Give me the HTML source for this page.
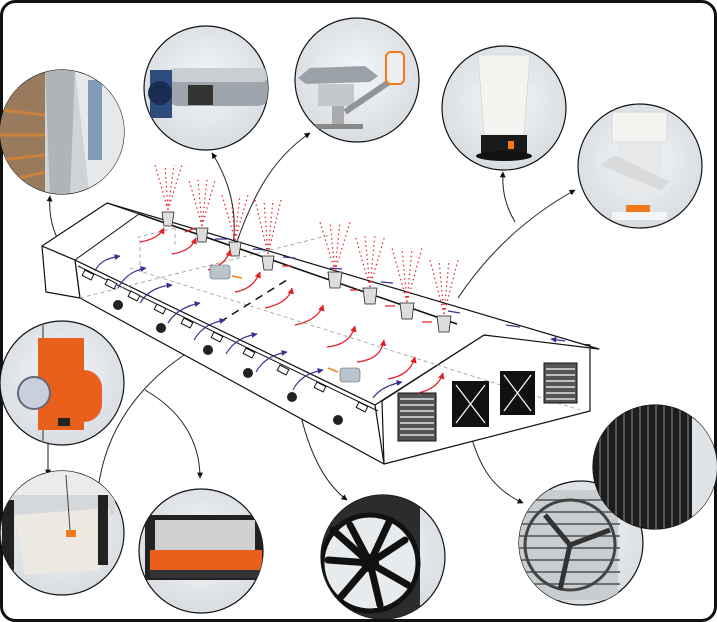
<!DOCTYPE html>
<html><head><meta charset="utf-8"><style>
html,body{margin:0;padding:0;background:#fff;}
svg{display:block;}
</style></head><body>
<svg width="717" height="622" viewBox="0 0 717 622" xmlns="http://www.w3.org/2000/svg">
<defs>
<marker id="ar" viewBox="0 0 10 10" refX="9" refY="5" markerWidth="6" markerHeight="6" orient="auto"><path d="M0,0L10,5L0,10z" fill="#111"/></marker>
<marker id="rd" viewBox="0 0 10 10" refX="9" refY="5" markerWidth="5" markerHeight="5" orient="auto"><path d="M0,0L10,5L0,10z" fill="#e3202a"/></marker>
<marker id="bl" viewBox="0 0 10 10" refX="9" refY="5" markerWidth="5" markerHeight="5" orient="auto"><path d="M0,0L10,5L0,10z" fill="#3a2f8f"/></marker>
<radialGradient id="g" cx="50%" cy="45%" r="60%"><stop offset="0" stop-color="#f4f6f8"/><stop offset="1" stop-color="#d6dbe0"/></radialGradient>
<clipPath id="c1"><circle cx="62" cy="132" r="62"/></clipPath>
<clipPath id="c2"><circle cx="206" cy="88" r="62"/></clipPath>
<clipPath id="c3"><circle cx="357" cy="80" r="62"/></clipPath>
<clipPath id="c4"><circle cx="504" cy="108" r="62"/></clipPath>
<clipPath id="c5"><circle cx="640" cy="166" r="62"/></clipPath>
<clipPath id="c6"><circle cx="62" cy="383" r="62"/></clipPath>
<clipPath id="c7"><circle cx="62" cy="533" r="62"/></clipPath>
<clipPath id="c8"><circle cx="201" cy="551" r="62"/></clipPath>
<clipPath id="c9"><circle cx="383" cy="557" r="62"/></clipPath>
<clipPath id="c10"><circle cx="581" cy="543" r="62"/></clipPath>
<clipPath id="c11"><circle cx="655" cy="467" r="62"/></clipPath>
</defs>
<rect x="1.5" y="1.5" width="714" height="619" rx="14" fill="#fff" stroke="#111" stroke-width="3"/>

<!-- connectors -->
<g fill="none" stroke="#222" stroke-width="1">
<path d="M72,262 C55,240 48,220 50,196" marker-end="url(#ar)"/>
<path d="M230,262 C240,220 232,185 212,153" marker-end="url(#ar)"/>
<path d="M230,262 C250,200 270,160 310,133" marker-end="url(#ar)"/>
<path d="M515,222 C505,205 502,190 503,172" marker-end="url(#ar)"/>
<path d="M458,298 C490,250 530,215 575,190" marker-end="url(#ar)"/>
<path d="M48,440 L48,475" marker-end="url(#ar)"/>
<path d="M200,345 C140,380 105,430 98,490" marker-end="url(#ar)"/>
<path d="M145,390 C180,410 200,440 200,478" marker-end="url(#ar)"/>
<path d="M297,398 C305,440 320,480 347,500" marker-end="url(#ar)"/>
<path d="M470,432 C480,470 495,490 523,503" marker-end="url(#ar)"/>
</g>

<!-- building -->
<g fill="#fff" stroke="#111" stroke-width="1.2" stroke-linejoin="round">
<polygon points="42,246 46,292 80,298 75,260"/>
<polygon points="75,260 375,405 384,464 80,298"/>
<polygon points="382,401 484,335 590,345 590,411 384,464"/>
<polygon points="42,246 107,203 599,349 484,335 375,405 75,260"/>
</g>
<g fill="none" stroke="#111" stroke-width="1">
<line x1="139" y1="214" x2="457" y2="324" stroke-width="1.6"/>
<line x1="75" y1="260" x2="139" y2="214"/>
<line x1="107" y1="203" x2="139" y2="214"/>
<line x1="78" y1="266" x2="378" y2="411"/>
</g>
<g fill="none" stroke="#999" stroke-width="0.8" stroke-dasharray="4,3">
<line x1="80" y1="298" x2="330" y2="235"/>
<line x1="130" y1="268" x2="580" y2="410"/>
<line x1="140" y1="272" x2="140" y2="240"/>
<line x1="175" y1="245" x2="175" y2="228"/>
<line x1="175" y1="228" x2="135" y2="238"/>
</g>
<g fill="none" stroke="#111" stroke-width="1.5" stroke-dasharray="8,6">
<line x1="220" y1="322" x2="290" y2="278"/>
</g>
<!-- windows -->
<g fill="#fff" stroke="#111" stroke-width="1">
<rect x="83" y="272" width="10" height="6" transform="rotate(27 88 275)"/>
<rect x="106" y="281" width="10" height="6" transform="rotate(27 111 284)"/>
<rect x="129" y="293" width="10" height="6" transform="rotate(27 134 296)"/>
<rect x="155" y="306" width="10" height="6" transform="rotate(27 160 309)"/>
<rect x="182" y="320" width="10" height="6" transform="rotate(27 187 323)"/>
<rect x="212" y="334" width="10" height="6" transform="rotate(27 217 337)"/>
<rect x="244" y="350" width="10" height="6" transform="rotate(27 249 353)"/>
<rect x="278" y="367" width="10" height="6" transform="rotate(27 283 370)"/>
<rect x="315" y="384" width="10" height="6" transform="rotate(27 320 387)"/>
<rect x="357" y="404" width="10" height="6" transform="rotate(27 362 407)"/>
</g>
<g fill="#222">
<circle cx="118" cy="305" r="5"/><circle cx="161" cy="328" r="5"/><circle cx="208" cy="350" r="5"/>
<circle cx="248" cy="373" r="5"/><circle cx="292" cy="397" r="5"/><circle cx="338" cy="420" r="5"/>
</g>
<!-- end wall fans -->
<g>
<rect x="398" y="393" width="38" height="48" fill="#555" stroke="#111"/>
<g stroke="#fff" stroke-width="1.3"><line x1="400" y1="399" x2="434" y2="399"/><line x1="400" y1="405" x2="434" y2="405"/><line x1="400" y1="411" x2="434" y2="411"/><line x1="400" y1="417" x2="434" y2="417"/><line x1="400" y1="423" x2="434" y2="423"/><line x1="400" y1="429" x2="434" y2="429"/><line x1="400" y1="435" x2="434" y2="435"/></g>
<rect x="452" y="381" width="37" height="46" fill="#111"/>
<path d="M456,385L485,423M485,385L456,423" stroke="#fff" stroke-width="1.2"/>
<rect x="500" y="371" width="35" height="44" fill="#111"/>
<path d="M504,375L531,411M531,375L504,411" stroke="#fff" stroke-width="1.2"/>
<rect x="544" y="363" width="33" height="40" fill="#555" stroke="#111"/>
<g stroke="#fff" stroke-width="1.3"><line x1="546" y1="369" x2="575" y2="369"/><line x1="546" y1="375" x2="575" y2="375"/><line x1="546" y1="381" x2="575" y2="381"/><line x1="546" y1="387" x2="575" y2="387"/><line x1="546" y1="393" x2="575" y2="393"/><line x1="546" y1="399" x2="575" y2="399"/></g>
</g>
<!-- chimneys with spray -->
<g>
<g fill="none" stroke="#e3202a" stroke-width="1.2" stroke-dasharray="1.5,3">
<path d="M168,210L155,165M168,210L182,165M168,210L165,165M168,210L174,165"/>
<path d="M202,226L189,180M202,226L215,180M202,226L198,180M202,226L207,180"/>
<path d="M235,240L222,195M235,240L248,195M235,240L231,195M235,240L240,195"/>
<path d="M268,254L255,200M268,254L281,200M268,254L264,200M268,254L273,200"/>
<path d="M335,271L320,222M335,271L350,222M335,271L330,222M335,271L340,222"/>
<path d="M370,287L355,235M370,287L385,235M370,287L365,235M370,287L375,235"/>
<path d="M407,302L392,248M407,302L422,248M407,302L402,248M407,302L412,248"/>
<path d="M444,314L430,260M444,314L458,260M444,314L439,260M444,314L449,260"/>
</g>
<g fill="#ddd" stroke="#222" stroke-width="0.8">
<path d="M162,212h12l-2,14h-8z"/><path d="M196,228h12l-2,14h-8z"/><path d="M229,242h12l-2,14h-8z"/><path d="M262,256h12l-2,14h-8z"/>
<path d="M328,272h14l-2,16h-10z"/><path d="M363,288h14l-2,16h-10z"/><path d="M400,303h14l-2,16h-10z"/><path d="M437,316h14l-2,16h-10z"/>
</g>
</g>
<!-- red airflow arrows -->
<g fill="none" stroke="#e3202a" stroke-width="1.3">
<path d="M140,242 C152,240 160,236 164,228" marker-end="url(#rd)"/>
<path d="M172,254 C184,252 192,248 196,238" marker-end="url(#rd)"/>
<path d="M208,270 C220,266 228,260 230,250" marker-end="url(#rd)"/>
<path d="M235,292 C248,290 256,282 260,272" marker-end="url(#rd)"/>
<path d="M265,308 C280,305 290,298 292,288" marker-end="url(#rd)"/>
<path d="M295,325 C310,322 320,315 323,305" marker-end="url(#rd)"/>
<path d="M327,347 C345,345 352,337 355,326" marker-end="url(#rd)"/>
<path d="M357,362 C375,360 382,352 384,340" marker-end="url(#rd)"/>
<path d="M388,379 C405,376 412,368 415,357" marker-end="url(#rd)"/>
<path d="M418,393 C432,390 440,383 443,373" marker-end="url(#rd)"/>
<path d="M185,232 l10,-4M282,266 l10,0M350,290 l8,0M385,306 l10,0M422,322 l10,0"/>
</g>
<!-- blue airflow arrows -->
<g fill="none" stroke="#3a2f8f" stroke-width="1.2">
<path d="M95,271 C100,260 110,258 120,256" marker-end="url(#bl)"/>
<path d="M118,288 C125,275 135,270 146,268" marker-end="url(#bl)"/>
<path d="M140,303 C148,290 160,286 172,285" marker-end="url(#bl)"/>
<path d="M168,323 C176,310 190,305 200,303" marker-end="url(#bl)"/>
<path d="M194,340 C202,326 214,322 225,320" marker-end="url(#bl)"/>
<path d="M226,354 C234,340 246,336 257,334" marker-end="url(#bl)"/>
<path d="M256,372 C264,358 276,354 287,352" marker-end="url(#bl)"/>
<path d="M293,390 C300,376 312,372 323,370" marker-end="url(#bl)"/>
<path d="M373,398 C380,388 392,384 402,382" marker-end="url(#bl)"/>
<path d="M227,239 l-12,0M265,250 l-12,-1M295,258 l-12,-1M342,269 l-12,-1M393,283 l-12,-1M460,313 l-12,-2M520,327 l-14,-2M565,341 l-14,-2" marker-end="url(#bl)"/>
</g>
<!-- heaters in house -->
<g><rect x="210" y="265" width="20" height="14" rx="3" fill="#b9c4cc" stroke="#666" stroke-width="0.6"/><line x1="232" y1="276" x2="242" y2="278" stroke="#f08020" stroke-width="1.5"/>
<rect x="340" y="368" width="20" height="14" rx="3" fill="#b9c4cc" stroke="#666" stroke-width="0.6"/><line x1="338" y1="372" x2="328" y2="368" stroke="#f08020" stroke-width="1.5"/></g>

<!-- circles -->
<g stroke="#111" stroke-width="1.2">
<circle cx="62" cy="132" r="62" fill="url(#g)"/>
<circle cx="206" cy="88" r="62" fill="url(#g)"/>
<circle cx="357" cy="80" r="62" fill="url(#g)"/>
<circle cx="504" cy="108" r="62" fill="url(#g)"/>
<circle cx="640" cy="166" r="62" fill="url(#g)"/>
<circle cx="62" cy="383" r="62" fill="url(#g)"/>
<circle cx="62" cy="533" r="62" fill="url(#g)"/>
<circle cx="201" cy="551" r="62" fill="url(#g)"/>
<circle cx="383" cy="557" r="62" fill="url(#g)"/>
<circle cx="581" cy="543" r="62" fill="url(#g)"/>
</g>
<!-- c1 corridor -->
<g clip-path="url(#c1)">
<rect x="0" y="70" width="130" height="130" fill="#cfd3d6"/>
<rect x="0" y="70" width="45" height="130" fill="#9a7a5c"/>
<g stroke="#c9823c" stroke-width="3"><line x1="0" y1="110" x2="45" y2="115"/><line x1="0" y1="135" x2="45" y2="135"/><line x1="0" y1="160" x2="45" y2="155"/><line x1="0" y1="182" x2="45" y2="172"/></g>
<polygon points="45,70 75,70 70,195 50,195" fill="#aeb4b8"/>
<polygon points="75,70 130,70 130,200 90,200" fill="#e6e8ea"/>
<rect x="88" y="80" width="14" height="80" fill="#7f9bb5"/>
</g>
<!-- c2 heater -->
<g clip-path="url(#c2)">
<rect x="168" y="68" width="100" height="38" rx="10" fill="#9ea5ac"/>
<rect x="168" y="68" width="100" height="14" rx="6" fill="#c9ced3"/>
<rect x="150" y="70" width="22" height="48" fill="#2e4d7e"/>
<circle cx="160" cy="93" r="12" fill="#1a2d50"/>
<rect x="188" y="85" width="25" height="20" fill="#333"/>
</g>
<!-- c3 mixing fan -->
<g clip-path="url(#c3)">
<polygon points="298,78 310,68 365,66 378,76 370,82 306,84" fill="#9aa1a8"/>
<rect x="318" y="84" width="36" height="22" fill="#c4c8cc"/>
<rect x="332" y="106" width="12" height="20" fill="#aaa"/>
<rect x="315" y="124" width="48" height="5" fill="#888"/>
<line x1="345" y1="112" x2="392" y2="80" stroke="#8f959a" stroke-width="6"/>
<rect x="386" y="52" width="18" height="32" rx="5" fill="#eee" stroke="#f07a1c" stroke-width="2"/>
</g>
<!-- c4 chimney -->
<g clip-path="url(#c4)">
<polygon points="478,55 530,55 524,135 484,135" fill="#f3f3f0" stroke="#ccc" stroke-width="0.6"/>
<rect x="481" y="135" width="46" height="20" fill="#1a1a1a"/>
<ellipse cx="504" cy="156" rx="28" ry="5" fill="#111"/>
<rect x="508" y="141" width="6" height="8" fill="#f07a1c"/>
</g>
<!-- c5 chimney tilted -->
<g clip-path="url(#c5)">
<rect x="612" y="112" width="55" height="30" fill="#f3f3f0" stroke="#ccc" stroke-width="0.6"/>
<rect x="618" y="142" width="44" height="55" fill="#e6e8ea"/>
<polygon points="600,165 615,155 670,182 660,190" fill="#d8dadc"/>
<rect x="626" y="205" width="24" height="8" fill="#f07a1c"/>
<rect x="612" y="212" width="55" height="8" fill="#f5f5f5"/>
</g>
<!-- c6 orange controller -->
<g clip-path="url(#c6)">
<rect x="42" y="320" width="2" height="130" fill="#888"/>
<rect x="38" y="338" width="46" height="92" fill="#e8601c"/>
<rect x="62" y="370" width="40" height="52" rx="18" fill="#e8601c"/>
<circle cx="34" cy="393" r="16" fill="#c7d0dc" stroke="#667" stroke-width="2"/>
<rect x="58" y="418" width="12" height="8" fill="#222"/>
</g>
<!-- c7 inlet -->
<g clip-path="url(#c7)">
<rect x="0" y="470" width="130" height="30" fill="#e9ebec"/>
<rect x="5" y="495" width="110" height="20" fill="#d5d8da"/>
<polygon points="15,515 110,508 100,570 25,575" fill="#ece9e2"/>
<rect x="2" y="500" width="12" height="70" fill="#222"/>
<rect x="98" y="495" width="10" height="70" fill="#222"/>
<rect x="66" y="530" width="10" height="7" fill="#f07a1c"/>
<line x1="66" y1="475" x2="70" y2="530" stroke="#444"/>
</g>
<!-- c8 inlet black/orange -->
<g clip-path="url(#c8)">
<rect x="145" y="515" width="118" height="65" fill="#222"/>
<rect x="155" y="520" width="100" height="30" fill="#d0d0d0"/>
<rect x="150" y="550" width="112" height="20" fill="#e8601c"/>
<rect x="150" y="570" width="112" height="8" fill="#333"/>
</g>
<!-- c9 fan -->
<g clip-path="url(#c9)">
<rect x="320" y="495" width="100" height="130" fill="#2c2c2c"/>
<circle cx="370" cy="563" r="48" fill="#e8ebee" stroke="#111" stroke-width="5"/>
<g stroke="#111" stroke-width="7" stroke-linecap="round">
<line x1="370" y1="563" x2="350" y2="525"/><line x1="370" y1="563" x2="405" y2="540"/><line x1="370" y1="563" x2="408" y2="585"/>
<line x1="370" y1="563" x2="380" y2="605"/><line x1="370" y1="563" x2="340" y2="598"/><line x1="370" y1="563" x2="328" y2="560"/>
<line x1="370" y1="563" x2="333" y2="530"/><line x1="370" y1="563" x2="390" y2="520"/></g>
<circle cx="370" cy="563" r="9" fill="#111"/>
</g>
<!-- c10 box fan -->
<g clip-path="url(#c10)">
<rect x="518" y="490" width="100" height="110" fill="#c9cdd0"/>
<g stroke="#6b7075" stroke-width="2"><line x1="518" y1="500" x2="620" y2="500"/><line x1="518" y1="512" x2="620" y2="512"/><line x1="518" y1="524" x2="620" y2="524"/><line x1="518" y1="536" x2="620" y2="536"/><line x1="518" y1="548" x2="620" y2="548"/><line x1="518" y1="560" x2="620" y2="560"/><line x1="518" y1="572" x2="620" y2="572"/><line x1="518" y1="584" x2="620" y2="584"/></g>
<circle cx="570" cy="545" r="45" fill="none" stroke="#444" stroke-width="3"/>
<path d="M570,545L545,515M570,545L610,530M570,545L560,590" stroke="#333" stroke-width="5"/>
</g>
<!-- c11 black grille (on top) -->
<circle cx="655" cy="467" r="62" fill="#2a2a2a" stroke="#111" stroke-width="1.2"/>
<g clip-path="url(#c11)">
<rect x="593" y="405" width="124" height="125" fill="#1d1d1d"/>
<g stroke="#555" stroke-width="2"><line x1="600" y1="405" x2="600" y2="530"/><line x1="608" y1="405" x2="608" y2="530"/><line x1="616" y1="405" x2="616" y2="530"/><line x1="624" y1="405" x2="624" y2="530"/><line x1="632" y1="405" x2="632" y2="530"/><line x1="640" y1="405" x2="640" y2="530"/><line x1="648" y1="405" x2="648" y2="530"/><line x1="656" y1="405" x2="656" y2="530"/><line x1="664" y1="405" x2="664" y2="530"/><line x1="672" y1="405" x2="672" y2="530"/><line x1="680" y1="405" x2="680" y2="530"/><line x1="688" y1="405" x2="688" y2="530"/></g>
<rect x="692" y="405" width="25" height="125" fill="#dfe3e6"/>
</g>
</svg>
</body></html>
